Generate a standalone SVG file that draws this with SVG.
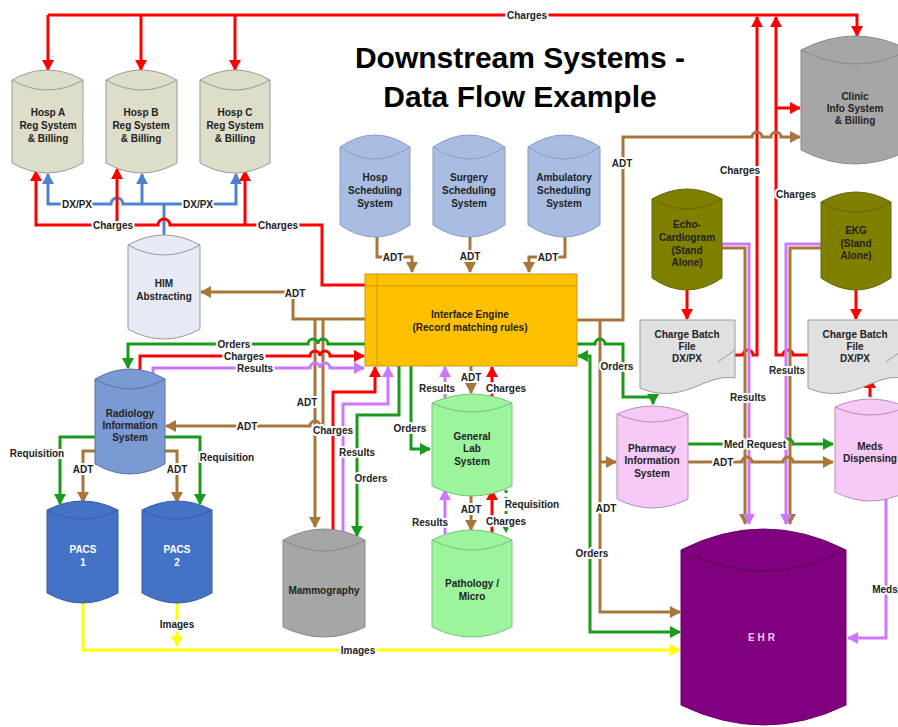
<svg xmlns="http://www.w3.org/2000/svg" width="898" height="727" viewBox="0 0 898 727">
<style>
.n{font-family:"Liberation Sans",Arial,sans-serif;font-weight:bold;font-size:10px;fill:#222;text-anchor:middle}
.w{fill:#fff}
.l{font-family:"Liberation Sans",Arial,sans-serif;font-weight:bold;font-size:10px;fill:#222;text-anchor:middle;dominant-baseline:central;stroke:#fff;stroke-width:4;paint-order:stroke;stroke-linejoin:round}
.t{font-family:"Liberation Sans",Arial,sans-serif;font-weight:bold;font-size:30px;fill:#000;text-anchor:middle}
.c path{stroke-width:1}
.k{fill:none;stroke-width:3;stroke-linejoin:miter}
.r{stroke:#ff0000}.b{stroke:#4f81cf}.br{stroke:#a8763a}.g{stroke:#1a9a1a}.p{stroke:#cc77ff}.y{stroke:#ffff00}
</style>
<defs>
<marker id="aR" markerUnits="userSpaceOnUse" markerWidth="12" markerHeight="12" refX="10" refY="6" orient="auto-start-reverse"><path d="M0,0 L11,6 L0,12 z" fill="#ff0000"/></marker>
<marker id="aB" markerUnits="userSpaceOnUse" markerWidth="12" markerHeight="12" refX="10" refY="6" orient="auto-start-reverse"><path d="M0,0 L11,6 L0,12 z" fill="#4f81cf"/></marker>
<marker id="aBr" markerUnits="userSpaceOnUse" markerWidth="12" markerHeight="12" refX="10" refY="6" orient="auto-start-reverse"><path d="M0,0 L11,6 L0,12 z" fill="#a8763a"/></marker>
<marker id="aG" markerUnits="userSpaceOnUse" markerWidth="12" markerHeight="12" refX="10" refY="6" orient="auto-start-reverse"><path d="M0,0 L11,6 L0,12 z" fill="#1a9a1a"/></marker>
<marker id="aP" markerUnits="userSpaceOnUse" markerWidth="12" markerHeight="12" refX="10" refY="6" orient="auto-start-reverse"><path d="M0,0 L11,6 L0,12 z" fill="#cc77ff"/></marker>
<marker id="aY" markerUnits="userSpaceOnUse" markerWidth="12" markerHeight="12" refX="10" refY="6" orient="auto-start-reverse"><path d="M0,0 L11,6 L0,12 z" fill="#ffff00"/></marker>
</defs>
<rect width="898" height="727" fill="#fff"/>

<g id="title">
<text class="t" x="520" y="68">Downstream Systems -</text>
<text class="t" x="520" y="107">Data Flow Example</text>
</g>

<g id="connectors">
<path class="k r" d="M48,15 H857 V36" marker-end="url(#aR)"/>
<path class="k r" d="M48,15 V70" marker-end="url(#aR)"/>
<path class="k r" d="M141,15 V70" marker-end="url(#aR)"/>
<path class="k r" d="M235,15 V70" marker-end="url(#aR)"/>
<path class="k r" d="M735,355 H743 a5,5 0 0 1 10,0 H757 V17" marker-end="url(#aR)"/>
<path class="k r" d="M808,355 H793 a5,5 0 0 0 -10,0 H776 V17" marker-end="url(#aR)"/>
<path class="k r" d="M776,108 H800" marker-end="url(#aR)"/>
<path class="k br" d="M577,320 H623 V137 H752 a5,5 0 0 1 10,0 H771 a5,5 0 0 1 10,0 H800" marker-end="url(#aBr)"/>
<path class="k b" d="M48,174 V204 H111 a6,6 0 0 1 12,0 H236 V174" marker-start="url(#aB)" marker-end="url(#aB)"/>
<path class="k b" d="M142,204 V174" marker-end="url(#aB)"/>
<path class="k b" d="M164,235 V204"/>
<path class="k r" d="M36,171 V225 H158 a6,6 0 0 1 12,0 H322 V285 H365" marker-start="url(#aR)"/>
<path class="k r" d="M117,225 V169" marker-end="url(#aR)"/>
<path class="k r" d="M245,225 V171" marker-end="url(#aR)"/>
<path class="k br" d="M377,237 V257 H412 V272" marker-end="url(#aBr)"/>
<path class="k br" d="M470,237 V272" marker-end="url(#aBr)"/>
<path class="k br" d="M565,237 V257 H529 V272" marker-end="url(#aBr)"/>
<path class="k br" d="M365,319 H293 V292 H201" marker-end="url(#aBr)"/>
<path class="k br" d="M315,319 V527" marker-end="url(#aBr)"/>
<path class="k br" d="M323,319 V426 H320 a5,5 0 0 0 -10,0 H166" marker-end="url(#aBr)"/>
<path class="k g" d="M365,344 H328 a5,5 0 0 0 -10,0 a5,5 0 0 0 -10,0 H128 V368" marker-end="url(#aG)"/>
<path class="k r" d="M140,370 V356 H310 a5,5 0 0 1 10,0 a5,5 0 0 1 10,0 H364" marker-end="url(#aR)"/>
<path class="k p" d="M153,374 V368 H310 a5,5 0 0 1 10,0 a5,5 0 0 1 10,0 H364" marker-end="url(#aP)"/>
<path class="k g" d="M95,437 H60 V504" marker-end="url(#aG)"/>
<path class="k br" d="M95,451 H83 V502" marker-end="url(#aBr)"/>
<path class="k br" d="M165,451 H177 V502" marker-end="url(#aBr)"/>
<path class="k g" d="M165,437 H200 V504" marker-end="url(#aG)"/>
<path class="k y" d="M83,603 V650 H680" marker-end="url(#aY)"/>
<path class="k y" d="M177,603 V646" marker-end="url(#aY)"/>
<path class="k r" d="M333,538 V392 H375 V367" marker-end="url(#aR)"/>
<path class="k p" d="M343,538 V404 H388 V367" marker-end="url(#aP)"/>
<path class="k g" d="M399,366 V415 H357 V536" marker-end="url(#aG)"/>
<path class="k g" d="M411,366 V449 H430" marker-end="url(#aG)"/>
<path class="k p" d="M445,398 V367" marker-end="url(#aP)"/>
<path class="k br" d="M471,366 V393" marker-end="url(#aBr)"/>
<path class="k r" d="M492,398 V367" marker-end="url(#aR)"/>
<path class="k p" d="M445,534 V490" marker-end="url(#aP)"/>
<path class="k br" d="M471,496 V530" marker-end="url(#aBr)"/>
<path class="k r" d="M492,534 V490" marker-end="url(#aR)"/>
<path class="k g" d="M506,490 V532" stroke-dasharray="3,4" marker-end="url(#aG)"/>
<path class="k br" d="M600,319 V612 H680" marker-end="url(#aBr)"/>
<path class="k br" d="M600,462 H616" marker-end="url(#aBr)"/>
<path class="k g" d="M577,344 H595 a5,5 0 0 1 10,0 H623 V397 H653 V404" marker-end="url(#aG)"/>
<path class="k g" d="M680,632 H590 V356 H578" marker-start="url(#aG)" marker-end="url(#aG)"/>
<path class="k r" d="M687,290 V319" marker-end="url(#aR)"/>
<path class="k r" d="M856,290 V319" marker-end="url(#aR)"/>
<path class="k br" d="M722,248 H745 V524" marker-end="url(#aBr)"/>
<path class="k p" d="M722,244 H749 V524" marker-end="url(#aP)"/>
<path class="k br" d="M821,248 H790 V524" marker-end="url(#aBr)"/>
<path class="k p" d="M821,244 H786 V524" marker-end="url(#aP)"/>
<path class="k g" d="M688,444 H783 a5,5 0 0 1 10,0 H833" marker-end="url(#aG)"/>
<path class="k br" d="M688,462 H742 a5,5 0 0 1 10,0 H783 a5,5 0 0 1 10,0 H833" marker-end="url(#aBr)"/>
<path class="k r" d="M870,397 V378" marker-end="url(#aR)"/>
<path class="k p" d="M886,497 V638 H848" marker-end="url(#aP)"/>

<text class="l" x="527" y="15">Charges</text>
<text class="l" x="77" y="204">DX/PX</text>
<text class="l" x="198" y="204">DX/PX</text>
<text class="l" x="113" y="225">Charges</text>
<text class="l" x="278" y="225">Charges</text>
<text class="l" x="393" y="257">ADT</text>
<text class="l" x="470" y="256">ADT</text>
<text class="l" x="548" y="257">ADT</text>
<text class="l" x="295" y="293">ADT</text>
<text class="l" x="622" y="163">ADT</text>
<text class="l" x="740" y="170">Charges</text>
<text class="l" x="796" y="194">Charges</text>
<text class="l" x="234" y="344">Orders</text>
<text class="l" x="244" y="356">Charges</text>
<text class="l" x="255" y="368">Results</text>
<text class="l" x="247" y="426">ADT</text>
<text class="l" x="37" y="453">Requisition</text>
<text class="l" x="83" y="469">ADT</text>
<text class="l" x="177" y="469">ADT</text>
<text class="l" x="227" y="457">Requisition</text>
<text class="l" x="307" y="402">ADT</text>
<text class="l" x="333" y="430">Charges</text>
<text class="l" x="357" y="452">Results</text>
<text class="l" x="371" y="478">Orders</text>
<text class="l" x="410" y="428">Orders</text>
<text class="l" x="437" y="388">Results</text>
<text class="l" x="471" y="377">ADT</text>
<text class="l" x="506" y="388">Charges</text>
<text class="l" x="430" y="522">Results</text>
<text class="l" x="471" y="509">ADT</text>
<text class="l" x="506" y="521">Charges</text>
<text class="l" x="532" y="504">Requisition</text>
<text class="l" x="617" y="366">Orders</text>
<text class="l" x="606" y="508">ADT</text>
<text class="l" x="592" y="553">Orders</text>
<text class="l" x="748" y="397">Results</text>
<text class="l" x="787" y="370">Results</text>
<text class="l" x="755" y="444">Med Request</text>
<text class="l" x="723" y="462">ADT</text>
<text class="l" x="885" y="589">Meds</text>
<text class="l" x="177" y="624">Images</text>
<text class="l" x="358" y="650">Images</text>
</g>

<g id="hospA" class="c"><path d="M12,80 Q47.5,60 83,80 V163 Q47.5,183 12,163 Z" fill="#deddc9" stroke="#999"/><path d="M12,80 Q47.5,100 83,80" fill="none" stroke="#999"/>
<text class="n" x="48" y="116">Hosp A</text><text class="n" x="48" y="129">Reg System</text><text class="n" x="48" y="142">&amp; Billing</text></g>
<g id="hospB" class="c"><path d="M106,80 Q141.5,60 177,80 V163 Q141.5,183 106,163 Z" fill="#deddc9" stroke="#999"/><path d="M106,80 Q141.5,100 177,80" fill="none" stroke="#999"/>
<text class="n" x="141" y="116">Hosp B</text><text class="n" x="141" y="129">Reg System</text><text class="n" x="141" y="142">&amp; Billing</text></g>
<g id="hospC" class="c"><path d="M200,80 Q235,60 270,80 V163 Q235,183 200,163 Z" fill="#deddc9" stroke="#999"/><path d="M200,80 Q235,100 270,80" fill="none" stroke="#999"/>
<text class="n" x="235" y="116">Hosp C</text><text class="n" x="235" y="129">Reg System</text><text class="n" x="235" y="142">&amp; Billing</text></g>
<g id="clinic" class="c"><path d="M801,50 Q855,22 909,50 V150 Q855,178 801,150 Z" fill="#a6a6a6" stroke="#888"/><path d="M801,50 Q855,78 909,50" fill="none" stroke="#888"/>
<text class="n" x="855" y="100">Clinic</text><text class="n" x="855" y="112">Info System</text><text class="n" x="855" y="124">&amp; Billing</text></g>
<g id="hospSched" class="c"><path d="M340,147 Q375,123 410,147 V225 Q375,249 340,225 Z" fill="#a9bde2" stroke="#8a9cc0"/><path d="M340,147 Q375,171 410,147" fill="none" stroke="#8a9cc0"/>
<text class="n" x="375" y="181">Hosp</text><text class="n" x="375" y="194">Scheduling</text><text class="n" x="375" y="207">System</text></g>
<g id="surgSched" class="c"><path d="M433,147 Q469,123 505,147 V225 Q469,249 433,225 Z" fill="#a9bde2" stroke="#8a9cc0"/><path d="M433,147 Q469,171 505,147" fill="none" stroke="#8a9cc0"/>
<text class="n" x="469" y="181">Surgery</text><text class="n" x="469" y="194">Scheduling</text><text class="n" x="469" y="207">System</text></g>
<g id="ambSched" class="c"><path d="M528,147 Q564,123 600,147 V225 Q564,249 528,225 Z" fill="#a9bde2" stroke="#8a9cc0"/><path d="M528,147 Q564,171 600,147" fill="none" stroke="#8a9cc0"/>
<text class="n" x="564" y="181">Ambulatory</text><text class="n" x="564" y="194">Scheduling</text><text class="n" x="564" y="207">System</text></g>
<g id="ie"><rect x="365" y="274" width="212" height="92" fill="#ffc000" stroke="#c89a10"/><path d="M377,274 V366 M365,286 H577" stroke="#c89a10" fill="none"/>
<text class="n" x="470" y="318">Interface Engine</text><text class="n" x="470" y="331">(Record matching rules)</text></g>
<g id="him" class="c"><path d="M128,245 Q164,225 200,245 V329 Q164,349 128,329 Z" fill="#e6eaf5" stroke="#999"/><path d="M128,245 Q164,265 200,245" fill="none" stroke="#999"/>
<text class="n" x="164" y="287">HIM</text><text class="n" x="164" y="300">Abstracting</text></g>
<g id="radiology" class="c"><path d="M95,379 Q130,359 165,379 V464 Q130,484 95,464 Z" fill="#7b99d2" stroke="#5a72a8"/><path d="M95,379 Q130,399 165,379" fill="none" stroke="#5a72a8"/>
<text class="n" x="130" y="417">Radiology</text><text class="n" x="130" y="429">Information</text><text class="n" x="130" y="441">System</text></g>
<g id="pacs1" class="c"><path d="M47,510 Q82.5,492 118,510 V593 Q82.5,613 47,593 Z" fill="#4472c4" stroke="#355da8"/><path d="M47,510 Q82.5,528 118,510" fill="none" stroke="#355da8"/>
<text class="n w" x="83" y="553">PACS</text><text class="n w" x="83" y="566">1</text></g>
<g id="pacs2" class="c"><path d="M142,510 Q177,492 212,510 V593 Q177,613 142,593 Z" fill="#4472c4" stroke="#355da8"/><path d="M142,510 Q177,528 212,510" fill="none" stroke="#355da8"/>
<text class="n w" x="177" y="553">PACS</text><text class="n w" x="177" y="566">2</text></g>
<g id="mammo" class="c"><path d="M283,540 Q324,518 365,540 V627 Q324,647 283,627 Z" fill="#a6a6a6" stroke="#888"/><path d="M283,540 Q324,562 365,540" fill="none" stroke="#888"/>
<text class="n" x="324" y="594">Mammography</text></g>
<g id="genLab" class="c"><path d="M432,403 Q472,385 512,403 V486 Q472,506 432,486 Z" fill="#9cf59c" stroke="#7cbf7c"/><path d="M432,403 Q472,421 512,403" fill="none" stroke="#7cbf7c"/>
<text class="n" x="472" y="440">General</text><text class="n" x="472" y="452">Lab</text><text class="n" x="472" y="465">System</text></g>
<g id="patho" class="c"><path d="M432,540 Q472,520 512,540 V627 Q472,647 432,627 Z" fill="#9cf59c" stroke="#7cbf7c"/><path d="M432,540 Q472,560 512,540" fill="none" stroke="#7cbf7c"/>
<text class="n" x="472" y="587">Pathology /</text><text class="n" x="472" y="600">Micro</text></g>
<g id="echo" class="c"><path d="M652,199 Q687,179 722,199 V278 Q687,302 652,278 Z" fill="#7f7f00" stroke="#666600"/><path d="M652,199 Q687,219 722,199" fill="none" stroke="#666600"/>
<text class="n" x="687" y="228">Echo-</text><text class="n" x="687" y="241">Cardiogram</text><text class="n" x="687" y="254">(Stand</text><text class="n" x="687" y="266">Alone)</text></g>
<g id="ekg" class="c"><path d="M821,202 Q856,182 891,202 V278 Q856,302 821,278 Z" fill="#7f7f00" stroke="#666600"/><path d="M821,202 Q856,222 891,202" fill="none" stroke="#666600"/>
<text class="n" x="856" y="234">EKG</text><text class="n" x="856" y="247">(Stand</text><text class="n" x="856" y="259">Alone)</text></g>
<g id="batch1"><path d="M640,320 H735 V378 C722,376 712,380 700,385 C686,391 672,395 658,393 C650,392 645,390 640,388 Z" fill="#e0e0e0" stroke="#999"/><path d="M718,362 L735,350" stroke="#999" fill="none"/>
<text class="n" x="687" y="338">Charge Batch</text><text class="n" x="687" y="350">File</text><text class="n" x="687" y="362">DX/PX</text></g>
<g id="batch2"><path d="M808,320 H903 V378 C890,376 880,380 868,385 C854,391 840,395 826,393 C818,392 813,390 808,388 Z" fill="#e0e0e0" stroke="#999"/><path d="M886,362 L903,350" stroke="#999" fill="none"/>
<text class="n" x="855" y="338">Charge Batch</text><text class="n" x="855" y="350">File</text><text class="n" x="855" y="362">DX/PX</text></g>
<g id="pharmacy" class="c"><path d="M617,414 Q652.5,398 688,414 V499 Q652.5,517 617,499 Z" fill="#f7c9f7" stroke="#b090b0"/><path d="M617,414 Q652.5,430 688,414" fill="none" stroke="#b090b0"/>
<text class="n" x="652" y="452">Pharmacy</text><text class="n" x="652" y="464">Information</text><text class="n" x="652" y="477">System</text></g>
<g id="meds" class="c"><path d="M835,407 Q870.5,391 906,407 V492 Q870.5,510 835,492 Z" fill="#f7c9f7" stroke="#b090b0"/><path d="M835,407 Q870.5,423 906,407" fill="none" stroke="#b090b0"/>
<text class="n" x="870" y="450">Meds</text><text class="n" x="870" y="462">Dispensing</text></g>
<g id="ehr" class="c"><path d="M681,550 Q763.5,508 846,550 V705 Q763.5,745 681,705 Z" fill="#800080" stroke="#6a006a"/><path d="M681,550 Q763.5,592 846,550" fill="none" stroke="#5a005a"/>
<text class="n" x="763" y="641" style="fill:#f0d0f0;letter-spacing:3px">EHR</text></g>
</svg>
